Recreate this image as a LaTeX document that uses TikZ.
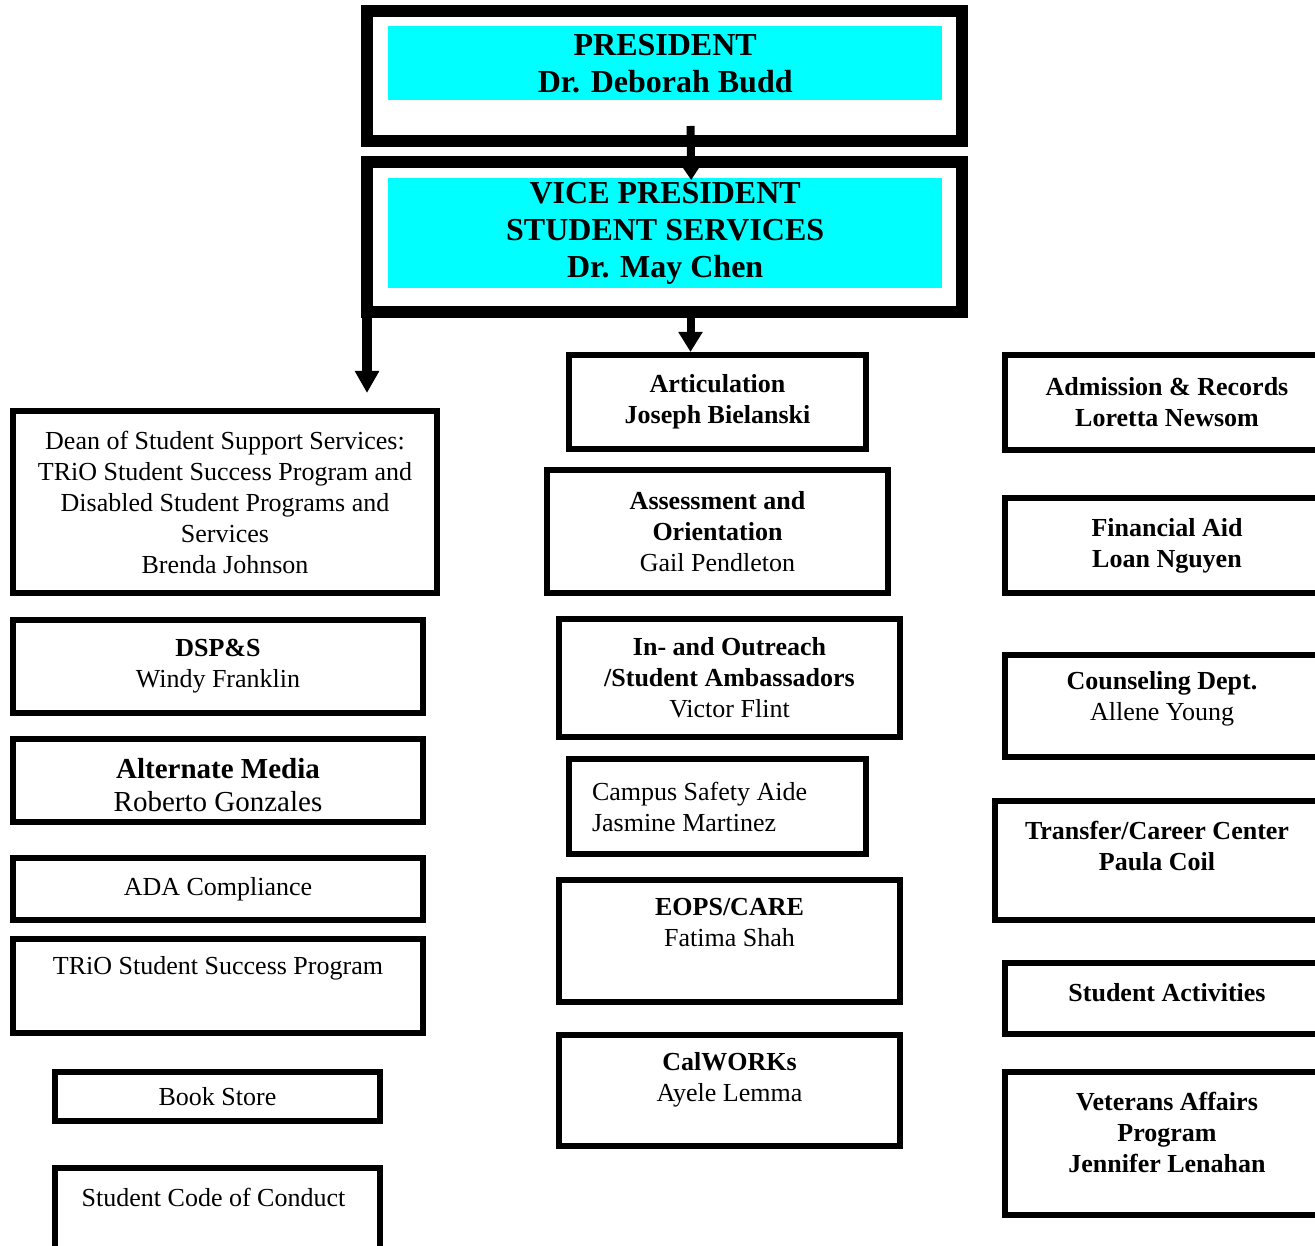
\documentclass[tikz,border=0pt]{standalone}
\usepackage{fontspec}
\setmainfont{Liberation Serif}
\usetikzlibrary{arrows.meta}
\definecolor{aqua}{RGB}{0,255,255}

\tikzset{
    office/.style={draw,line width=12pt,inner sep=0pt,anchor=north west},
    title/.style={fill=aqua,inner sep=0pt,align=center,anchor=north west,
        font=\fontsize{32}{37}\selectfont\bfseries},
    unit/.style={draw,line width=6pt,inner sep=0pt,align=center,anchor=north west,
        font=\fontsize{26}{31}\selectfont},
    txt/.style={inner sep=0pt,align=center,font=\fontsize{26}{31}\selectfont},
    link/.style={line width=8pt,-{Triangle[width=23pt,length=20pt]}}
}

\begin{document}
\begin{tikzpicture}[x=1pt,y=-1pt]
    \clip (0,0) rectangle (1315,1246);
    \fill[white] (0,0) rectangle (1315,1246);

    % top offices
    \node[office,minimum width=595pt,minimum height=130pt] (pres) at (361,5) {};
    \node[title,minimum width=554pt,minimum height=74pt] (presfill) at (388,26) {PRESIDENT\\Dr. Deborah Budd};
    \node[office,minimum width=595pt,minimum height=150pt] (vp) at (361,156) {};
    \node[title,minimum width=554pt,minimum height=110pt] (vpfill) at (388,178) {VICE PRESIDENT\\STUDENT SERVICES\\Dr. May Chen};

    % left column
    \node[unit,minimum width=424pt,minimum height=182pt] (dean) at (10,408)
        {Dean of Student Support Services:\\TRiO Student Success Program and\\Disabled Student Programs and\\Services\\Brenda Johnson};
    \node[unit,minimum width=410pt,minimum height=93pt] (dsps) at (10,617) {\textbf{DSP\&S}\\Windy Franklin};
    \node[unit,minimum width=410pt,minimum height=83pt] (altmedia) at (10,736) {};
    \node[txt,font=\fontsize{29}{33}\selectfont] (altmedia-t) at ([yshift=-5pt]altmedia.center)
        {\textbf{Alternate Media}\\Roberto Gonzales};
    \node[unit,minimum width=410pt,minimum height=62pt] (ada) at (10,855) {ADA Compliance};
    \node[unit,minimum width=410pt,minimum height=94pt] (trio) at (10,936) {};
    \node[txt] (trio-t) at ([yshift=18pt]trio.center) {TRiO Student Success Program};
    \node[unit,minimum width=325pt,minimum height=49pt] (bookstore) at (52,1069) {Book Store};
    \node[unit,minimum width=325pt,minimum height=89pt] (conduct) at (52,1165) {};
    \node[txt] (conduct-t) at ([xshift=-4pt,yshift=15pt]conduct.center) {Student Code of Conduct};

    % middle column
    \node[unit,minimum width=297pt,minimum height=94pt] (artic) at (566,352) {\textbf{Articulation}\\\textbf{Joseph Bielanski}};
    \node[unit,minimum width=341pt,minimum height=123pt] (assess) at (544,467)
        {\textbf{Assessment and}\\\textbf{Orientation}\\Gail Pendleton};
    \node[unit,minimum width=341pt,minimum height=118pt] (outreach) at (556,616)
        {\textbf{In- and Outreach}\\\textbf{/Student Ambassadors}\\Victor Flint};
    \node[unit,minimum width=297pt,minimum height=95pt,text width=251pt,align=flush left] (campus) at (566,756)
        {Campus Safety Aide\\Jasmine Martinez};
    \node[unit,minimum width=341pt,minimum height=122pt] (eops) at (556,877) {};
    \node[txt] (eops-t) at ([yshift=18pt]eops.center) {\textbf{EOPS/CARE}\\Fatima Shah};
    \node[unit,minimum width=341pt,minimum height=111pt] (calworks) at (556,1032) {};
    \node[txt] (calworks-t) at ([yshift=11pt]calworks.center) {\textbf{CalWORKs}\\Ayele Lemma};

    % right column
    \node[unit,minimum width=324pt,minimum height=95pt] (admission) at (1002,352)
        {\textbf{Admission \& Records}\\\textbf{Loretta Newsom}};
    \node[unit,minimum width=324pt,minimum height=95pt] (finaid) at (1002,495) {\textbf{Financial Aid}\\\textbf{Loan Nguyen}};
    \node[unit,minimum width=314pt,minimum height=102pt] (counsel) at (1002,652) {};
    \node[txt] (counsel-t) at ([yshift=7pt]counsel.center) {\textbf{Counseling Dept.}\\Allene Young};
    \node[unit,minimum width=324pt,minimum height=119pt] (transfer) at (992,798) {};
    \node[txt] (transfer-t) at ([yshift=14pt]transfer.center) {\textbf{Transfer/Career Center}\\\textbf{Paula Coil}};
    \node[unit,minimum width=324pt,minimum height=71pt] (activities) at (1002,960) {};
    \node[txt] (activities-t) at ([yshift=6pt]activities.center) {\textbf{Student Activities}};
    \node[unit,minimum width=324pt,minimum height=143pt] (veterans) at (1002,1069) {};
    \node[txt] (veterans-t) at ([yshift=11pt]veterans.center)
        {\textbf{Veterans Affairs}\\\textbf{Program}\\\textbf{Jennifer Lenahan}};

    % connectors
    \coordinate (deantip) at (367,393);
    \draw[line width=8pt,-{Triangle[width=15pt,length=12pt]}] ([xshift=26pt,yshift=21pt]pres.south) -- ([xshift=26pt,yshift=-2pt]vpfill.north);
    \draw[link] ([xshift=26pt,yshift=8pt]vp.south) -- ([xshift=26pt]vp.south |- artic.north);
    \draw[link,line width=10pt,-{Triangle[width=23pt,length=22pt]}] ([xshift=6pt,yshift=6pt]vp.south west) -- (deantip);
\end{tikzpicture}
\end{document}
